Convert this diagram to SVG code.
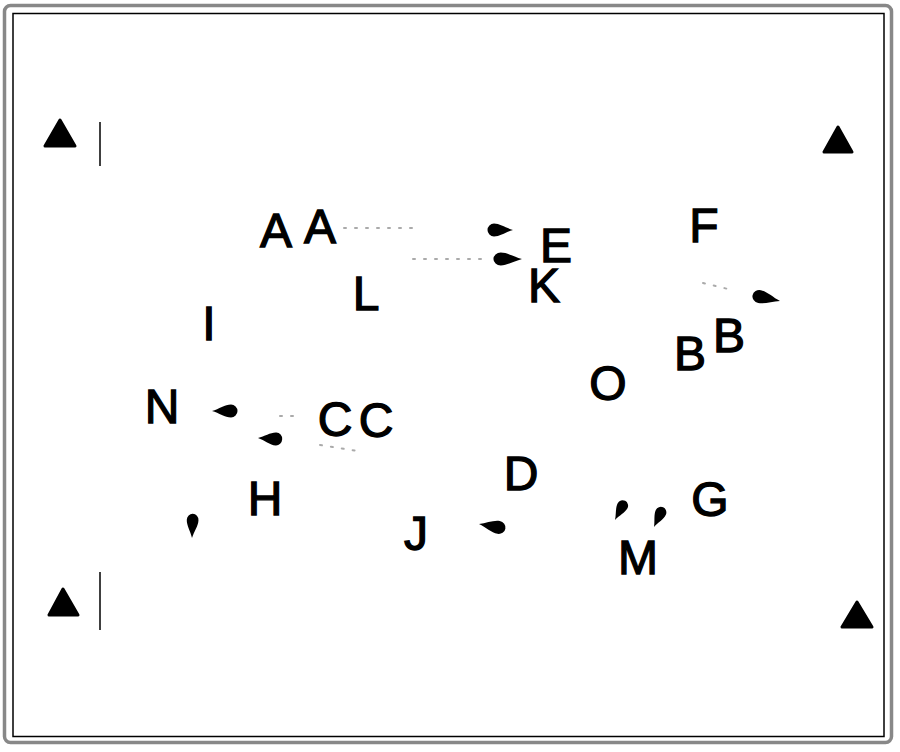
<svg xmlns="http://www.w3.org/2000/svg" width="900" height="752" viewBox="0 0 900 752">
<style>
.lbl{font-family:"Liberation Sans",Arial,sans-serif;font-size:48px;fill:#000;stroke:#000;stroke-width:1.3;text-anchor:middle}
.dot{stroke:#aaa;stroke-width:2;stroke-dasharray:2 9;fill:none;stroke-linecap:round}
.tri{fill:#000;stroke:#000;stroke-width:3;stroke-linejoin:round}
</style>
<defs>
<path id="tear" d="M0,0 C-7,-2 -13,-6.5 -19,-6.5 A6.5,6.5 0 0 0 -19,6.5 C-13,6.5 -7,2 0,0 Z" fill="#000"/>
</defs>
<rect x="4.5" y="5.5" width="887" height="737" rx="6" fill="none" stroke="#888" stroke-width="3.5"/>
<rect x="13" y="13.5" width="871" height="723" fill="none" stroke="#000" stroke-width="1.5"/>
<g id="corners">
<path class="tri" d="M60,120 L75,146 L45,146 Z"/>
<path class="tri" d="M838,127 L852,152 L824,152 Z"/>
<path class="tri" d="M63,589 L78,615 L49,615 Z"/>
<path class="tri" d="M857,602 L872,627 L842,627 Z"/>
<line x1="100" y1="122" x2="100" y2="166" stroke="#000" stroke-width="1.5"/>
<line x1="100" y1="572" x2="100" y2="630" stroke="#000" stroke-width="1.5"/>
</g>
<g id="connectors">
<line class="dot" x1="344" y1="228" x2="420" y2="228"/>
<line class="dot" x1="413" y1="259" x2="488" y2="259"/>
<line class="dot" x1="703" y1="283" x2="728" y2="289"/>
<line class="dot" x1="280" y1="416" x2="293" y2="416"/>
<line class="dot" x1="320" y1="445" x2="358" y2="451"/>
<use href="#tear" transform="translate(513,230)"/>
<use href="#tear" transform="translate(522,259) scale(1.12,1)"/>
<use href="#tear" transform="translate(780,301) rotate(12) scale(1.1,1)"/>
<use href="#tear" transform="translate(212,411) rotate(180)"/>
<use href="#tear" transform="translate(258,438) rotate(183) scale(0.95,1)"/>
<use href="#tear" transform="translate(479,524) rotate(190) scale(1.05,1)"/>
<use href="#tear" transform="translate(192,538) rotate(92) scale(0.95,0.9)"/>
<use href="#tear" transform="translate(615,520) rotate(118) scale(0.85,0.85)"/>
<use href="#tear" transform="translate(654,527) rotate(115) scale(0.85,0.85)"/>
</g>
<g id="nA1"><text class="lbl" x="276" y="247">A</text></g>
<g id="nA2"><text class="lbl" x="320" y="243">A</text></g>
<g id="nE"><text class="lbl" x="556" y="262">E</text></g>
<g id="nK"><text class="lbl" x="544" y="302">K</text></g>
<g id="nL"><text class="lbl" x="366" y="310">L</text></g>
<g id="nF"><text class="lbl" x="704" y="242">F</text></g>
<g id="nB1"><text class="lbl" x="729" y="352">B</text></g>
<g id="nB2"><text class="lbl" x="690" y="370">B</text></g>
<g id="nO"><text class="lbl" x="608" y="400">O</text></g>
<g id="nI"><text class="lbl" x="209" y="340">I</text></g>
<g id="nN"><text class="lbl" x="162" y="423">N</text></g>
<g id="nC1"><text class="lbl" x="335" y="436">C</text></g>
<g id="nC2"><text class="lbl" x="376" y="437">C</text></g>
<g id="nH"><text class="lbl" x="265" y="515">H</text></g>
<g id="nD"><text class="lbl" x="521" y="490">D</text></g>
<g id="nJ"><text class="lbl" x="416" y="550">J</text></g>
<g id="nM"><text class="lbl" x="638" y="574">M</text></g>
<g id="nG"><text class="lbl" x="710" y="516">G</text></g>
</svg>
